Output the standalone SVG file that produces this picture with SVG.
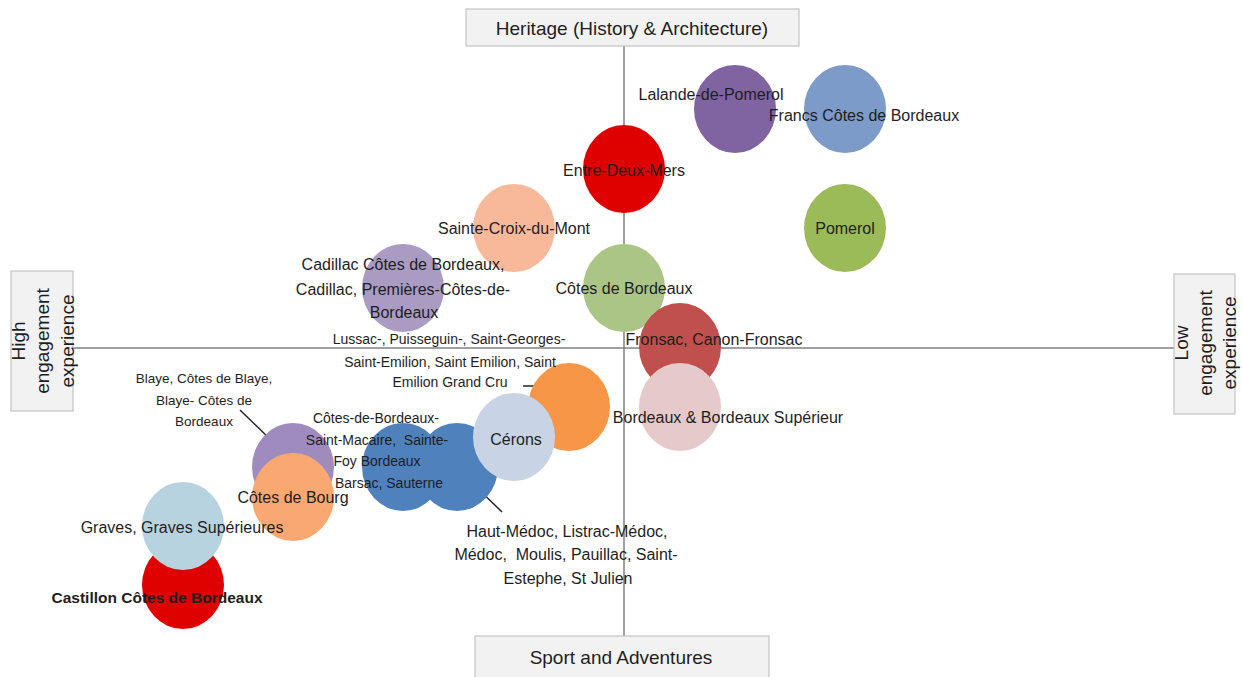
<svg xmlns="http://www.w3.org/2000/svg" width="1242" height="677" viewBox="0 0 1242 677">
  <style>
    text { font-family: "Liberation Sans", Arial, sans-serif; fill: #1e1e1e; text-anchor: middle; dominant-baseline: central; }
    .lbl { font-size: 16px; }
    .sm { font-size: 14px; }
    .xs { font-size: 13.5px; }
    .bold { font-size: 15.5px; font-weight: bold; }
    .axis-title { font-size: 19px; }
    .box { fill: #f2f2f2; stroke: #c4c4c4; stroke-width: 1.2; }
    .axis { stroke: #808080; stroke-width: 1.5; fill: none; }
    .leader { stroke: #262626; stroke-width: 1.5; fill: none; }
  </style>

  <rect width="1242" height="677" fill="#ffffff"/>

  <!-- quadrant axes and label leader lines -->
  <g id="connectors">
    <line class="axis" x1="624" y1="46" x2="624" y2="636"/>
    <line class="axis" x1="73" y1="348" x2="1174" y2="348"/>
    <line class="leader" x1="523" y1="386" x2="562" y2="386"/>
    <line class="leader" x1="240" y1="410" x2="272" y2="441"/>
    <line class="leader" x1="472" y1="483" x2="502" y2="512"/>
  </g>

  <!-- axis end boxes -->
  <g id="axis-top">
    <rect class="box" x="466" y="9" width="333" height="37"/>
    <text class="axis-title" x="632" y="28">Heritage (History &amp; Architecture)</text>
  </g>
  <g id="axis-bottom">
    <rect class="box" x="475" y="636" width="294" height="50"/>
    <text class="axis-title" x="621" y="657">Sport and Adventures</text>
  </g>
  <g id="axis-left">
    <rect class="box" x="11" y="271" width="62" height="140"/>
    <text class="axis-title" transform="translate(18,341) rotate(-90)">High</text>
    <text class="axis-title" transform="translate(42,341) rotate(-90)">engagement</text>
    <text class="axis-title" transform="translate(67,341) rotate(-90)">experience</text>
  </g>
  <g id="axis-right">
    <rect class="box" x="1174" y="274" width="61" height="140"/>
    <text class="axis-title" transform="translate(1181,343) rotate(-90)">Low</text>
    <text class="axis-title" transform="translate(1205,343) rotate(-90)">engagement</text>
    <text class="axis-title" transform="translate(1229,343) rotate(-90)">experience</text>
  </g>

  <!-- appellation bubbles -->
  <g id="lalande-de-pomerol"><ellipse cx="735" cy="109" rx="41" ry="44" fill="#8064a2"/></g>
  <g id="francs-cotes"><ellipse cx="845" cy="109" rx="41" ry="44" fill="#7c9bc9"/></g>
  <g id="entre-deux-mers"><ellipse cx="624" cy="169" rx="41" ry="44" fill="#df0000"/></g>
  <g id="pomerol"><ellipse cx="845" cy="228" rx="41" ry="44" fill="#9bbb59"/></g>
  <g id="sainte-croix"><ellipse cx="514" cy="228" rx="41" ry="44" fill="#f8b99a"/></g>
  <g id="cadillac"><ellipse cx="403" cy="288" rx="41" ry="44" fill="#a99bc2"/></g>
  <g id="cotes-de-bordeaux"><ellipse cx="624" cy="288" rx="41" ry="44" fill="#abc587"/></g>
  <g id="fronsac"><ellipse cx="680" cy="347" rx="41" ry="44" fill="#c0504d"/></g>
  <g id="bordeaux-superieur"><ellipse cx="680" cy="407" rx="41" ry="44" fill="#e6c9ca"/></g>
  <g id="saint-emilion"><ellipse cx="569" cy="407" rx="41" ry="44" fill="#f79646"/></g>
  <g id="saint-macaire"><ellipse cx="403" cy="467" rx="41" ry="44" fill="#4f81bd"/></g>
  <g id="medoc"><ellipse cx="457" cy="467" rx="41" ry="44" fill="#4f81bd"/></g>
  <g id="cerons"><ellipse cx="514" cy="437" rx="41" ry="44" fill="#c8d3e5"/></g>
  <g id="blaye"><ellipse cx="293" cy="467" rx="41" ry="44" fill="#9f8bbd"/></g>
  <g id="cotes-de-bourg"><ellipse cx="293" cy="497" rx="41" ry="44" fill="#f9a872"/></g>
  <g id="castillon"><ellipse cx="183" cy="585" rx="41" ry="44" fill="#df0000"/></g>
  <g id="graves"><ellipse cx="183" cy="526" rx="41" ry="44" fill="#b8d3e0"/></g>

  <!-- bubble labels -->
  <g id="labels">
    <text class="lbl" x="711" y="94">Lalande-de-Pomerol</text>
    <text class="lbl" x="864" y="115">Francs Côtes de Bordeaux</text>
    <text class="lbl" x="624" y="170">Entre-Deux-Mers</text>
    <text class="lbl" x="845" y="228">Pomerol</text>
    <text class="lbl" x="514" y="228">Sainte-Croix-du-Mont</text>
    <text class="lbl" x="403" y="264">Cadillac Côtes de Bordeaux,</text>
    <text class="lbl" x="403" y="289">Cadillac, Premières-Côtes-de-</text>
    <text class="lbl" x="404" y="312">Bordeaux</text>
    <text class="lbl" x="624" y="288">Côtes de Bordeaux</text>
    <text class="lbl" x="714" y="339">Fronsac, Canon-Fronsac</text>
    <text class="lbl" x="728" y="417">Bordeaux &amp; Bordeaux Supérieur</text>
    <text class="sm" x="449" y="339">Lussac-, Puisseguin-, Saint-Georges-</text>
    <text class="sm" x="450" y="362">Saint-Emilion, Saint Emilion, Saint</text>
    <text class="sm" x="450" y="382">Emilion Grand Cru</text>
    <text class="lbl" x="516" y="439">Cérons</text>
    <text class="xs" x="204" y="378">Blaye, Côtes de Blaye,</text>
    <text class="xs" x="204" y="400">Blaye- Côtes de</text>
    <text class="xs" x="204" y="421">Bordeaux</text>
    <text class="sm" x="376" y="418">Côtes-de-Bordeaux-</text>
    <text class="sm" x="377" y="440" xml:space="preserve">Saint-Macaire,  Sainte-</text>
    <text class="sm" x="377" y="461">Foy Bordeaux</text>
    <text class="sm" x="389" y="483">Barsac, Sauterne</text>
    <text class="lbl" x="293" y="497">Côtes de Bourg</text>
    <text class="lbl" x="567" y="531">Haut-Médoc, Listrac-Médoc,</text>
    <text class="lbl" x="566" y="554" xml:space="preserve">Médoc,  Moulis, Pauillac, Saint-</text>
    <text class="lbl" x="568" y="578">Estephe, St Julien</text>
    <text class="lbl" x="182" y="527">Graves, Graves Supérieures</text>
    <text class="bold" x="157" y="597">Castillon Côtes de Bordeaux</text>
  </g>
</svg>
